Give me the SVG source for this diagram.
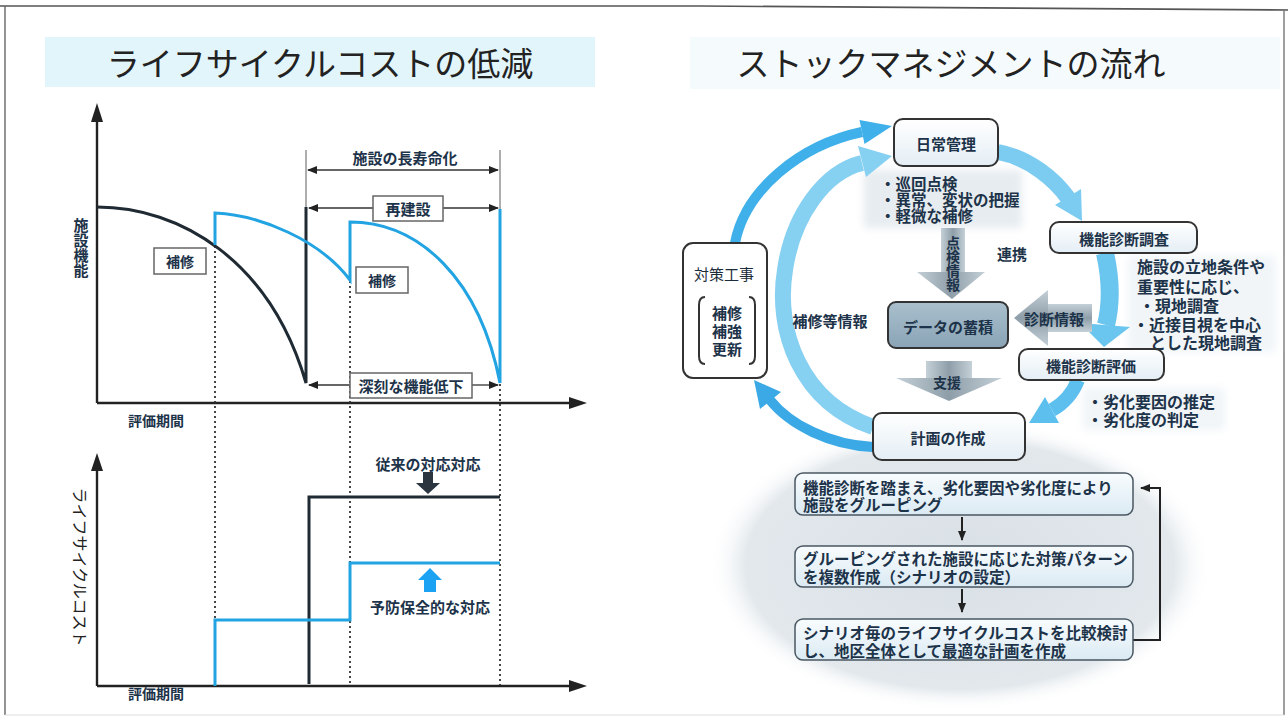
<svg xmlns="http://www.w3.org/2000/svg" width="1288" height="721" viewBox="0 0 1288 721">
<defs>
<style>
text{font-family:"Noto Sans CJK JP","Noto Sans CJK SC",sans-serif;dominant-baseline:central}
.t{font-size:33px;fill:#222;text-anchor:middle}
.b{font-weight:700;fill:#1d3349}
.c{text-anchor:middle}
.v{writing-mode:vertical-rl;text-anchor:middle}
.ax{stroke:#222;stroke-width:2.4;fill:none}
.dot{stroke:#333;stroke-width:1.8;stroke-dasharray:2 3;fill:none}
.dk{stroke:#1f2a33;stroke-width:3;fill:none}
.bl{stroke:#22a3e2;stroke-width:3;fill:none}
.dim{stroke:#333;stroke-width:1.3;fill:none}
.ext{stroke:#777;stroke-width:1.2;fill:none}
.lb{fill:#fff;stroke:#666;stroke-width:1.5}
.node{fill:url(#ng);stroke:#333;stroke-width:2}
.fb{fill:url(#fg);stroke:#4a5762;stroke-width:1.5}
.ga{fill:url(#gg)}
</style>
<marker id="ah" viewBox="0 0 10 10" refX="9" refY="5" markerWidth="10" markerHeight="10" markerUnits="userSpaceOnUse" orient="auto-start-reverse"><path d="M0,1 L10,5 L0,9 z" fill="#222"/></marker>
<linearGradient id="ng" x1="0" y1="0" x2="0" y2="1"><stop offset="0" stop-color="#ffffff"/><stop offset="1" stop-color="#e4eef5"/></linearGradient>
<linearGradient id="fg" x1="0" y1="0" x2="0" y2="1"><stop offset="0" stop-color="#f8fcfe"/><stop offset="1" stop-color="#dbeaf3"/></linearGradient>
<linearGradient id="dg" x1="0" y1="0" x2="0" y2="1"><stop offset="0" stop-color="#a9bfcd"/><stop offset="1" stop-color="#8aa4b6"/></linearGradient>
<linearGradient id="gg" x1="0" y1="0" x2="1" y2="0"><stop offset="0" stop-color="#c5d0d7"/><stop offset="0.5" stop-color="#8e9ea9"/><stop offset="1" stop-color="#c5d0d7"/></linearGradient>
<linearGradient id="gh" x1="0" y1="0" x2="0" y2="1"><stop offset="0" stop-color="#c5d0d7"/><stop offset="0.5" stop-color="#8e9ea9"/><stop offset="1" stop-color="#c5d0d7"/></linearGradient>
<radialGradient id="eg" cx="0.5" cy="0.5" r="0.5"><stop offset="0" stop-color="#d9e0e6"/><stop offset="0.85" stop-color="#e2e8ec"/><stop offset="1" stop-color="#ffffff" stop-opacity="0"/></radialGradient>
<filter id="blur" x="-20%" y="-20%" width="140%" height="140%"><feGaussianBlur stdDeviation="4"/></filter>
</defs>
<rect width="1288" height="721" fill="#ffffff"/>
<!-- frame -->
<path d="M0,6 L700,6 L1288,10" stroke="#555" stroke-width="1.6" fill="none"/>
<path d="M5,6 V715" stroke="#666" stroke-width="1.4"/>
<path d="M1284,10 V715" stroke="#777" stroke-width="1.4"/>
<path d="M5,715 H1284" stroke="#ddd" stroke-width="1"/>

<!-- LEFT: life cycle cost chart -->
<g id="title-left">
<rect x="45" y="37" width="550" height="50" fill="#e2f5fa"/>
<text class="t" x="320" y="62">ライフサイクルコストの低減</text>
</g>
<g id="chart-function">
<path class="ax" d="M97,403 V118"/><polygon points="97,103 91,122 103,122" fill="#222"/>
<path class="ax" d="M97,403 H570"/><polygon points="587,403 569,397 569,409" fill="#222"/>
<path class="dot" d="M215,246 V686"/>
<path class="dot" d="M350,281 V686"/>
<path class="dot" d="M500,384 V686"/>
<path class="ext" d="M306,150 V207"/>
<path class="ext" d="M500,150 V209"/>
<path class="dim" d="M308,170 H498" marker-start="url(#ah)" marker-end="url(#ah)"/>
<path class="dk" d="M97,207 C180,207 270,260 306,383 V207"/>
<path class="bl" d="M215,245 V213 C260,215 320,240 350,280 V222 C420,222 480,280 500,383 V209"/>
<path class="dim" d="M309,208 H373" marker-start="url(#ah)"/>
<path class="dim" d="M443,208 H498" marker-end="url(#ah)"/>
<path class="dim" d="M309,385 H350" marker-start="url(#ah)"/>
<path class="dim" d="M472,385 H498" marker-end="url(#ah)"/>
<text class="b c" x="405" y="157" font-size="15" fill="#333">施設の長寿命化</text>
<rect class="lb" x="373" y="196" width="70" height="25"/>
<text class="b c" x="408" y="208" font-size="15">再建設</text>
<rect class="lb" x="154" y="248" width="52" height="26"/>
<text class="b c" x="180" y="261" font-size="14">補修</text>
<rect class="lb" x="356" y="267" width="52" height="26"/>
<text class="b c" x="382" y="280" font-size="14">補修</text>
<rect class="lb" x="350" y="373" width="122" height="25"/>
<text class="b c" x="411" y="385" font-size="15">深刻な機能低下</text>
<text class="b v" x="81" y="248" font-size="15">施設機能</text>
<text class="b c" x="156" y="420" font-size="14" fill="#2b3f52">評価期間</text>
</g>
<g id="chart-cost">
<path class="ax" d="M97,686 V470"/><polygon points="97,453 91,471 103,471" fill="#222"/>
<path class="ax" d="M97,686 H570"/><polygon points="587,686 569,680 569,692" fill="#222"/>
<path class="dk" d="M309,684 V497 H500"/>
<path class="bl" d="M215,686 V620 H350 V563 H500"/>
<polygon points="423,472 433,472 433,483 440,483 428,494 416,483 423,483" fill="#2a3540"/>
<polygon points="430,568 442,580 436,580 436,592 424,592 424,580 418,580" fill="#1ba2f2"/>
<text class="b c" x="428" y="463" font-size="15" fill="#222">従来の対応対応</text>
<text class="b c" x="430" y="606" font-size="15" fill="#222">予防保全的な対応</text>
<text class="c" transform="translate(81,567) rotate(90)" font-size="16" fill="#222">ライフサイクルコスト</text>
<text class="b c" x="156" y="693" font-size="14" fill="#2b3f52">評価期間</text>
</g>

<!-- RIGHT: stock management flow -->
<g id="title-right">
<rect x="690" y="37" width="590" height="52" fill="#f5fbfd"/>
<text class="t" x="951" y="62">ストックマネジメントの流れ</text>
</g>
<g id="backgrounds">
<ellipse cx="960" cy="565" rx="252" ry="146" fill="url(#eg)"/>
<rect x="864" y="170" width="158" height="58" fill="#e6ecf0" filter="url(#blur)"/>
<rect x="1128" y="256" width="148" height="96" fill="#f1f5f8" filter="url(#blur)"/>
<rect x="1083" y="388" width="142" height="42" fill="#f1f5f8" filter="url(#blur)"/>
</g>

<g id="connectors">
<path d="M735,243 C745,190 800,145 862,132" stroke="#3fb0ea" stroke-width="10" fill="none"/>
<polygon points="892,126 864.5,144 859.5,120" fill="#3fb0ea"/>
<path d="M873,427 C800,402 775,330 785,270 C793,215 825,172 862,163" stroke="#86d0f2" stroke-width="16" fill="none"/>
<polygon points="892,156 866,177 858,146" fill="#86d0f2"/>
<path d="M873,447 C830,445 790,425 770,400" stroke="#3aa9e5" stroke-width="10" fill="none"/>
<polygon points="754,380 781,392 760,409" fill="#3aa9e5"/>
<path d="M998,152 C1030,158 1055,180 1068,198" stroke="#7ccbf0" stroke-width="16" fill="none"/>
<polygon points="1082,221 1081,189 1055,205" fill="#7ccbf0"/>
<path d="M1105,253 C1111,280 1111,305 1106,325" stroke="#6ac5ef" stroke-width="18" fill="none"/>
<polygon points="1104,347 1080,323 1130,327" fill="#6ac5ef"/>
<path d="M1078,380 Q1070,400 1052,410" stroke="#5cbfee" stroke-width="14" fill="none"/>
<polygon points="1029,423 1059,423 1045,397" fill="#5cbfee"/>
<g id="arrow-tenken">
<rect class="ga" x="941" y="228" width="24" height="46"/>
<polygon points="917,272 985,272 952,299" fill="url(#gg)"/>
</g>
<g id="arrow-shindan">
<rect x="1046" y="304" width="46" height="28" fill="url(#gh)"/>
<polygon points="1048,290 1048,346 1014,318" fill="url(#gh)"/>
</g>
<g id="arrow-shien">
<rect class="ga" x="926" y="361" width="46" height="18"/>
<polygon points="896,378 1002,378 949,401" fill="url(#gg)"/>
</g>
<path d="M962,517 V540" stroke="#222" stroke-width="2" fill="none" marker-end="url(#ah)"/>
<path d="M962,589 V612" stroke="#222" stroke-width="2" fill="none" marker-end="url(#ah)"/>
<path d="M1133,640 H1160 V488 H1141" stroke="#222" stroke-width="2" fill="none" marker-end="url(#ah)"/>
</g>

<g id="node-nichijo">
<rect class="node" x="894" y="119" width="104" height="47" rx="9"/>
<text class="b c" x="946" y="143" font-size="15">日常管理</text>
<text class="b" font-size="15.5"><tspan x="880" y="183">・巡回点検</tspan><tspan x="880" y="199">・異常、変状の把握</tspan><tspan x="880" y="215">・軽微な補修</tspan></text>
</g>
<g id="label-tenken"><text class="b v" x="953" y="264" font-size="14">点検情報</text></g>
<g id="label-renkei"><text class="b c" x="1012" y="253" font-size="15">連携</text></g>
<g id="node-data">
<rect x="888" y="302" width="120" height="46" rx="8" fill="url(#dg)" stroke="#333" stroke-width="2"/>
<text class="b c" x="948" y="326" font-size="15" fill="#22364a">データの蓄積</text>
</g>
<g id="label-shindan"><text class="b c" x="1054" y="318" font-size="15">診断情報</text></g>
<g id="label-shien"><text class="b c" x="947" y="382" font-size="14">支援</text></g>
<g id="node-keikaku">
<rect class="node" x="873" y="413" width="152" height="47" rx="9"/>
<text class="b c" x="948" y="437" font-size="15">計画の作成</text>
</g>
<g id="node-chosa">
<rect class="node" x="1050" y="222" width="147" height="31" rx="9"/>
<text class="b c" x="1124" y="238" font-size="15">機能診断調査</text>
<text class="b" font-size="16"><tspan x="1137" y="266">施設の立地条件や</tspan><tspan x="1137" y="286">重要性に応じ、</tspan><tspan x="1139" y="305">・現地調査</tspan><tspan x="1133" y="324">・近接目視を中心</tspan><tspan x="1150" y="342">とした現地調査</tspan></text>
</g>
<g id="node-hyoka">
<rect class="node" x="1019" y="349" width="145" height="31" rx="9"/>
<text class="b c" x="1091" y="365" font-size="15">機能診断評価</text>
<text class="b" font-size="16" fill="#1d4a8a"><tspan x="1087" y="401">・劣化要因の推定</tspan><tspan x="1087" y="419">・劣化度の判定</tspan></text>
</g>
<g id="node-taisaku">
<rect x="683" y="243" width="84" height="135" rx="10" fill="#fff" stroke="#333" stroke-width="2"/>
<text class="c" x="724" y="273" font-size="15" fill="#1d2c3a">対策工事</text>
<path d="M705,297 Q699,297 699,305 V356 Q699,364 705,364" stroke="#333" stroke-width="2" fill="none"/>
<path d="M749,297 Q755,297 755,305 V356 Q755,364 749,364" stroke="#333" stroke-width="2" fill="none"/>
<text class="b c" font-size="15"><tspan x="727" y="312">補修</tspan><tspan x="727" y="330">補強</tspan><tspan x="727" y="348">更新</tspan></text>
</g>
<g id="label-hoshu"><text class="b c" x="830" y="320" font-size="15">補修等情報</text></g>
<g id="flow-1">
<rect class="fb" x="795" y="473" width="338" height="42" rx="8"/>
<text class="b" font-size="15.5" fill="#1d4a8a"><tspan x="803" y="487">機能診断を踏まえ、劣化要因や劣化度により</tspan><tspan x="803" y="504">施設をグルーピング</tspan></text>
</g>
<g id="flow-2">
<rect class="fb" x="795" y="546" width="338" height="41" rx="8"/>
<text class="b" font-size="15.5" fill="#2b3340"><tspan x="803" y="558">グルーピングされた施設に応じた対策パターン</tspan><tspan x="803" y="576">を複数作成（シナリオの設定）</tspan></text>
</g>
<g id="flow-3">
<rect class="fb" x="795" y="619" width="338" height="41" rx="8"/>
<text class="b" font-size="15.5" fill="#2b3340"><tspan x="803" y="632">シナリオ毎のライフサイクルコストを比較検討</tspan><tspan x="803" y="650">し、地区全体として最適な計画を作成</tspan></text>
</g>
</svg>
